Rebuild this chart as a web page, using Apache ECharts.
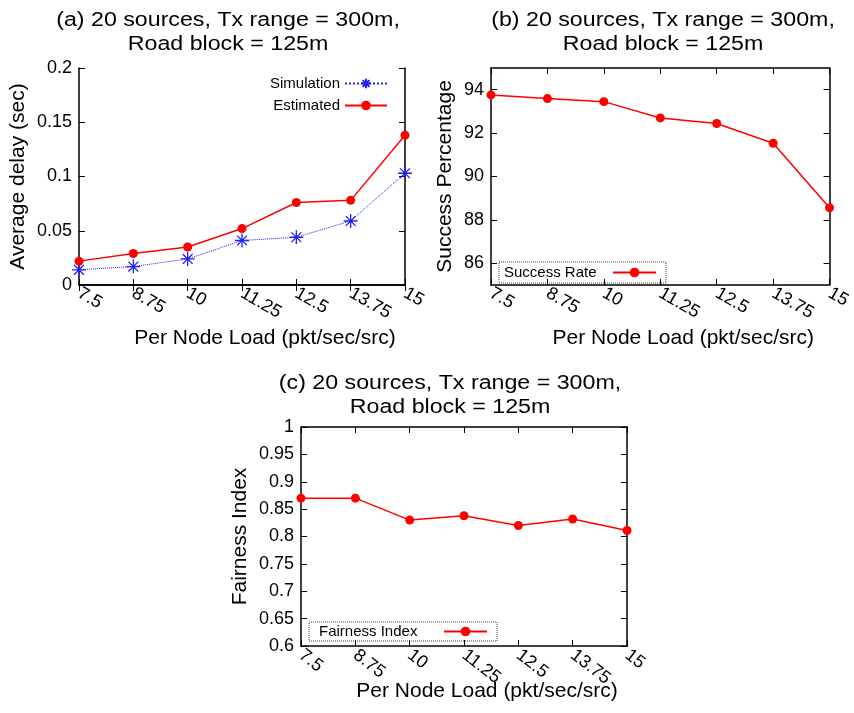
<!DOCTYPE html>
<html>
<head>
<meta charset="utf-8">
<script src="https://cdn.jsdelivr.net/npm/echarts@6/dist/echarts.min.js"></script>
<style>
  html, body { margin: 0; padding: 0; background: #fff; }
  #chart { width: 854px; height: 713px; }
</style>
</head>
<body>
<div id="chart"></div>
<script>
// Per-node offered load (pkt/sec/src), shared by all three panels
const loads = ['7.5', '8.75', '10', '11.25', '12.5', '13.75', '15'];

// (a) average delay in seconds
const delaySimulation = [0.014, 0.017, 0.024, 0.041, 0.044, 0.059, 0.103];
const delayEstimated  = [0.022, 0.029, 0.035, 0.052, 0.076, 0.078, 0.138];

// (b) delivery success percentage
const successRate = [93.76, 93.59, 93.45, 92.70, 92.44, 91.53, 88.56];
const successTicks = [86, 88, 90, 92, 94];

// (c) fairness index
const fairnessIndex = [0.870, 0.870, 0.830, 0.838, 0.820, 0.832, 0.811];

const titleLine1 = ['(a) 20 sources, Tx range = 300m,', '(b) 20 sources, Tx range = 300m,', '(c) 20 sources, Tx range = 300m,'];
const titleLine2 = 'Road block = 125m';
const xName = 'Per Node Load (pkt/sec/src)';

const FONT = 'Liberation Sans';
const RED = '#ff0000';
const BLUE = '#2222ee';

const chart = echarts.init(document.getElementById('chart'), null, { renderer: 'canvas' });

const frameLine = { show: true, lineStyle: { color: '#000', width: 1.5 } };
const innerTick = { show: true, inside: true, length: 6, lineStyle: { color: '#000', width: 1 } };

function bottomAxis(gridIndex, rotate, nameGap) {
  return {
    type: 'category', gridIndex, position: 'bottom', data: loads, boundaryGap: false,
    axisLine: frameLine, axisTick: Object.assign({ alignWithLabel: true }, innerTick),
    splitLine: { show: false },
    axisLabel: { rotate, margin: 7, fontFamily: FONT, fontSize: 18, color: '#000', interval: 0 },
    name: xName, nameLocation: 'middle', nameGap, nameMoveOverlap: false,
    nameTextStyle: { fontFamily: FONT, fontSize: 21, color: '#000', padding: [0, 0, 0, 46] }
  };
}
function topAxis(gridIndex) {
  return {
    type: 'category', gridIndex, position: 'top', data: loads, boundaryGap: false,
    axisLine: frameLine, axisTick: innerTick, axisLabel: { show: false }, splitLine: { show: false }
  };
}
function leftAxis(gridIndex, extra, name, nameGap) {
  return Object.assign({
    type: 'value', gridIndex, position: 'left',
    axisLine: frameLine, axisTick: innerTick, splitLine: { show: false },
    axisLabel: { margin: 7, fontFamily: FONT, fontSize: 18, color: '#000' },
    name, nameLocation: 'middle', nameGap, nameMoveOverlap: false,
    nameTextStyle: { fontFamily: FONT, fontSize: 21, color: '#000' }
  }, extra);
}
function rightAxis(gridIndex, extra) {
  return Object.assign({
    type: 'value', gridIndex, position: 'right',
    axisLine: frameLine, axisTick: innerTick, splitLine: { show: false },
    axisLabel: { show: false }
  }, extra);
}

const delayRange = { min: 0, max: 0.2, interval: 0.05 };
const fairRange = { min: 0.6, max: 1, interval: 0.05 };
const successRange = { min: 85, max: 95 };

// asterisk marker: + and x strokes
const asterisk = 'path://M0,-10L0,10M-10,0L10,0M-7,-7L7,7M-7,7L7,-7';

function titleText(x, y, text) {
  return {
    type: 'text', x, y, scaleX: 1.16,
    style: { text, fontFamily: FONT, fontSize: 20, lineHeight: 24, fill: '#000', textAlign: 'center', textVerticalAlign: 'top' }
  };
}

// legend entry label with a fixed-width text box
function legendText(width, align) {
  return {
    formatter: '{t|{name}}',
    textStyle: {
      fontFamily: FONT, fontSize: 15, color: '#000',
      rich: { t: { width, align, fontFamily: FONT, fontSize: 15, color: '#000' } }
    }
  };
}

const option = {
  backgroundColor: '#fff',
  animation: false,
  graphic: [
    titleText(228, 8, titleLine1[0] + '\n' + titleLine2),
    titleText(663, 8, titleLine1[1] + '\n' + titleLine2),
    titleText(450, 371, titleLine1[2] + '\n' + titleLine2)
  ],
  grid: [
    { left: 79, top: 68, width: 326, height: 217 },
    { left: 491, top: 68, width: 343, height: 217 },
    { left: 301, top: 427, width: 326, height: 219 }
  ],
  xAxis: [
    bottomAxis(0, -30, 43), topAxis(0),
    bottomAxis(1, -30, 43), topAxis(1),
    bottomAxis(2, -38, 35), topAxis(2)
  ],
  yAxis: [
    leftAxis(0, delayRange, 'Average delay (sec)', 50), rightAxis(0, delayRange),
    leftAxis(1, Object.assign({
      axisLabel: { margin: 7, fontFamily: FONT, fontSize: 18, color: '#000', customValues: successTicks },
      axisTick: Object.assign({ customValues: successTicks }, innerTick)
    }, successRange), 'Success Percentage', 35),
    rightAxis(1, Object.assign({ axisTick: Object.assign({ customValues: successTicks }, innerTick) }, successRange)),
    leftAxis(2, fairRange, 'Fairness Index', 50), rightAxis(2, fairRange)
  ],
  legend: [
    Object.assign({
      data: ['Simulation', 'Estimated'], orient: 'vertical', align: 'right',
      left: 270, top: 76, padding: 0, itemWidth: 42, itemHeight: 12, itemGap: 7
    }, legendText(71, 'right')),
    Object.assign({
      data: ['Success Rate'], left: 499, top: 262, align: 'right',
      padding: [3, 9, 3, 5], itemWidth: 43, itemHeight: 12,
      borderColor: '#444', borderWidth: 1, borderType: 'dotted'
    }, legendText(104, 'left')),
    Object.assign({
      data: ['Fairness Index'], left: 309, top: 622, align: 'right',
      padding: [2, 9, 2, 10], itemWidth: 43, itemHeight: 12,
      borderColor: '#444', borderWidth: 1, borderType: 'dotted'
    }, legendText(120, 'left'))
  ],
  series: [
    {
      name: 'Simulation', type: 'line', xAxisIndex: 0, yAxisIndex: 0, data: delaySimulation,
      symbol: asterisk, symbolSize: 14,
      lineStyle: { color: BLUE, width: 1, type: 'dotted' },
      itemStyle: { color: 'rgba(0,0,0,0)', borderColor: BLUE, borderWidth: 1.3 }
    },
    {
      name: 'Estimated', type: 'line', xAxisIndex: 0, yAxisIndex: 0, data: delayEstimated,
      symbol: 'circle', symbolSize: 9,
      lineStyle: { color: RED, width: 1.5 }, itemStyle: { color: RED }
    },
    {
      name: 'Success Rate', type: 'line', xAxisIndex: 2, yAxisIndex: 2, data: successRate,
      symbol: 'circle', symbolSize: 9,
      lineStyle: { color: RED, width: 1.5 }, itemStyle: { color: RED }
    },
    {
      name: 'Fairness Index', type: 'line', xAxisIndex: 4, yAxisIndex: 4, data: fairnessIndex,
      symbol: 'circle', symbolSize: 9,
      lineStyle: { color: RED, width: 1.5 }, itemStyle: { color: RED }
    }
  ]
};

chart.setOption(option);
</script>
</body>
</html>
